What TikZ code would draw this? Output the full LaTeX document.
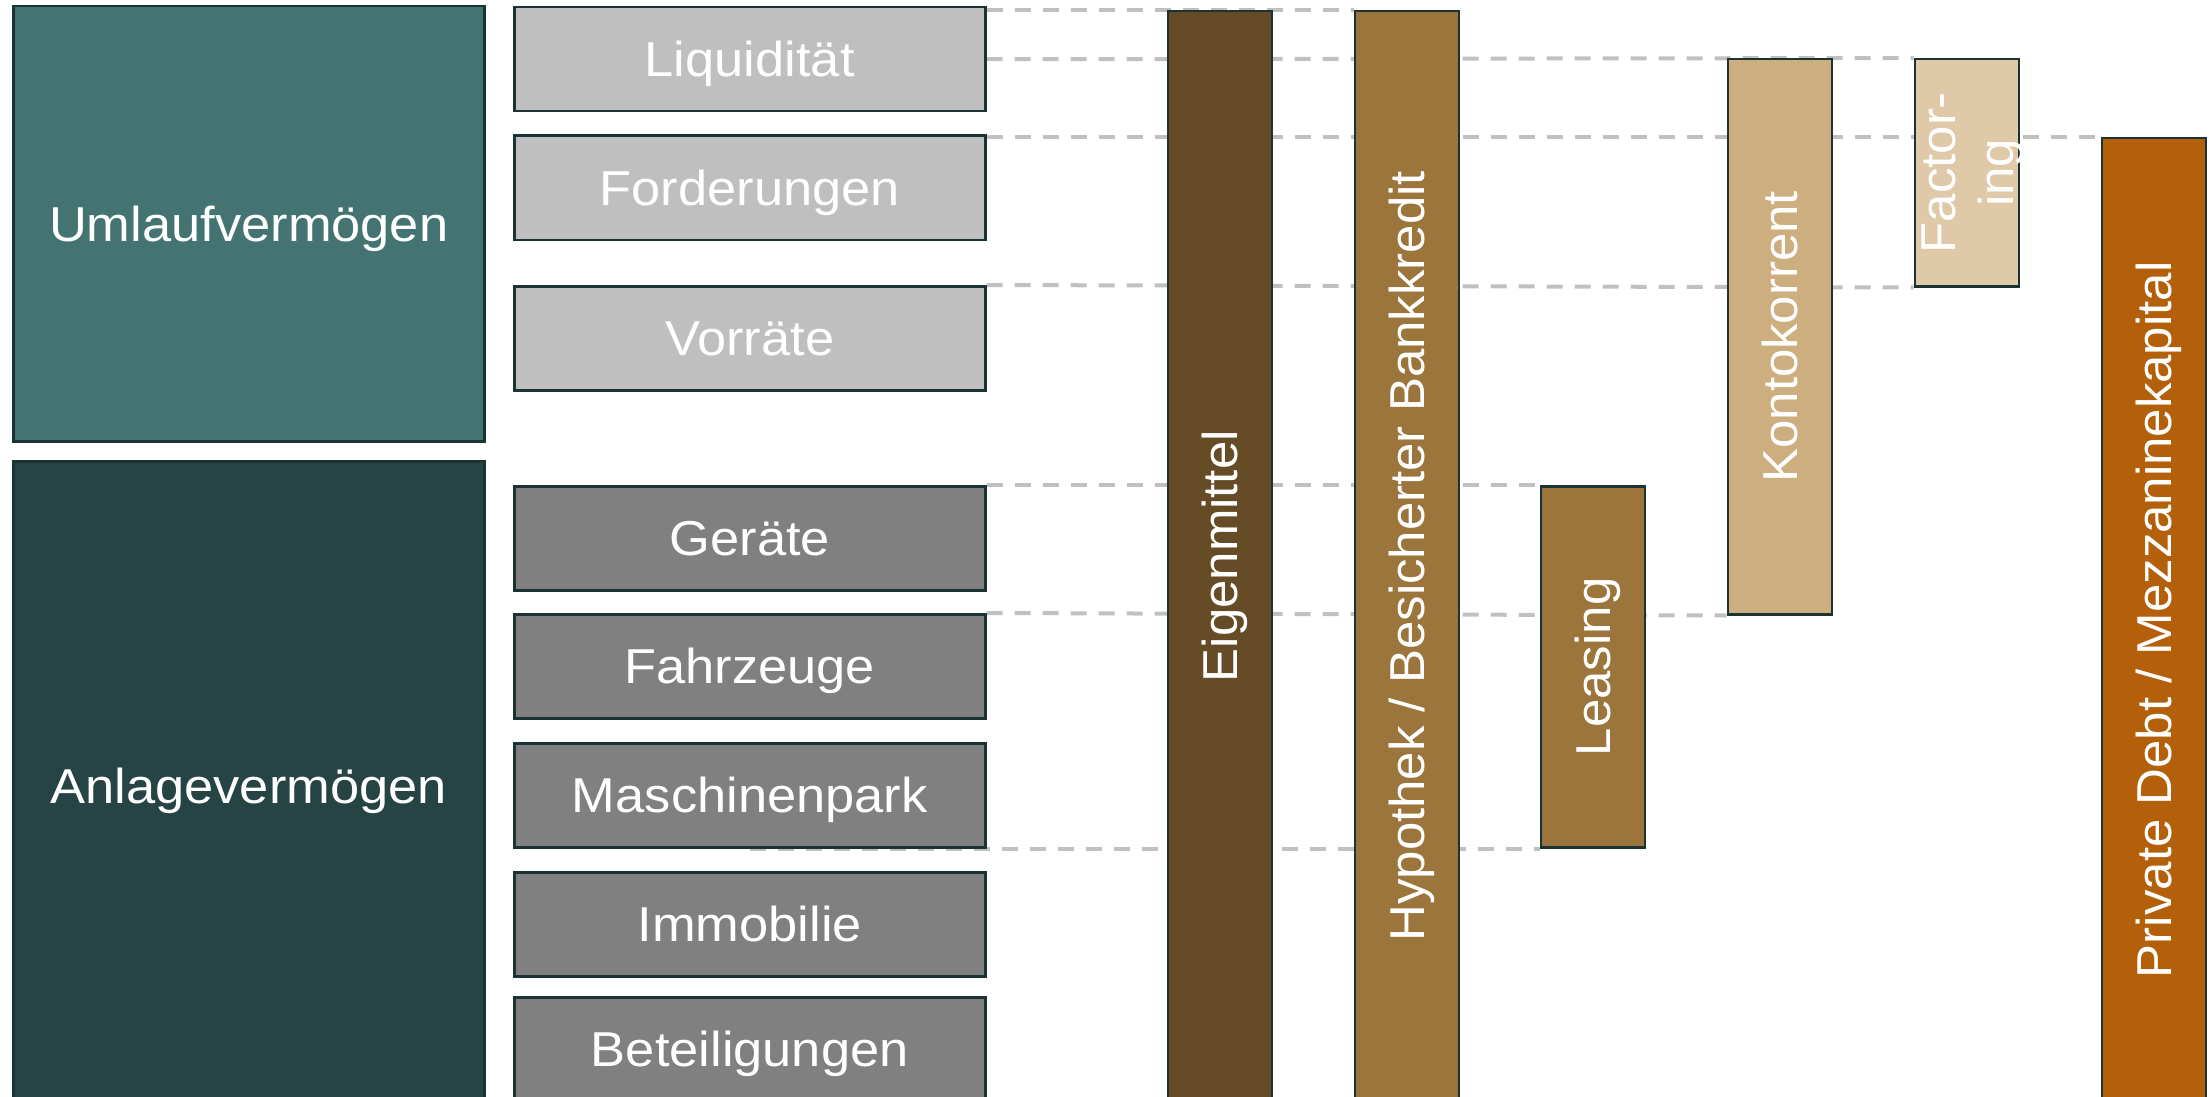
\documentclass[tikz,border=0pt]{standalone}
\usepackage{fontspec}
\setmainfont{Liberation Sans}[FakeStretch=1.04]
\newfontfamily\leftfont{Liberation Sans}[FakeStretch=1.07]
\definecolor{umC}{HTML}{447472}
\definecolor{anC}{HTML}{274445}
\definecolor{lgC}{HTML}{BFBFBF}
\definecolor{dgC}{HTML}{808080}
\definecolor{eigC}{HTML}{664C26}
\definecolor{hypC}{HTML}{9B753C}
\definecolor{konC}{HTML}{CDAE7E}
\definecolor{facC}{HTML}{DFC9A8}
\definecolor{pdC}{HTML}{B45F0A}
\definecolor{bord}{HTML}{1C3333}
\definecolor{dashC}{HTML}{C0C0C0}
\pgfdeclarelayer{bg}
\pgfsetlayers{bg,main}
\begin{document}
\begin{tikzpicture}[x=1pt,y=-1pt,
  lbox/.style={draw=bord,line width=2.5pt,inner sep=0pt,anchor=north west,text=white,
    font=\leftfont\fontsize{49}{58}\selectfont,text height=35pt,text depth=0pt,minimum width=471pt},
  bar/.style={draw=bord,line width=2.5pt,inner sep=0pt,anchor=north west,minimum width=104pt},
  vlbl/.style={rotate=90,inner sep=0pt,text=white,font=\fontsize{49}{58}\selectfont,
    text height=35pt,text depth=0pt},
  gline/.style={draw=dashC,line width=4pt,dash pattern=on 16pt off 12pt}]
\useasboundingbox (0,0) rectangle (2209,1097);
\clip (0,0) rectangle (2209,1097);
% left blocks
\node[lbox,fill=umC,minimum height=435pt] (uv) at (12,5) {Umlaufvermögen};
\node[lbox,fill=anC,minimum height=650pt] (av) at (12,460) {Anlagevermögen};
% asset items
\node[lbox,fill=lgC,minimum height=104pt] (liq) at (513,6) {Liquidität};
\node[lbox,fill=lgC,minimum height=104pt] (ford) at (513,134.5) {Forderungen};
\node[lbox,fill=lgC,minimum height=104pt] (vor) at (513,285) {Vorräte};
\node[lbox,fill=dgC,minimum height=104pt] (ger) at (513,485) {Geräte};
\node[lbox,fill=dgC,minimum height=104pt] (fahr) at (513,613) {Fahrzeuge};
\node[lbox,fill=dgC,minimum height=104pt] (masch) at (513,742) {Maschinenpark};
\node[lbox,fill=dgC,minimum height=104pt] (immo) at (513,871) {Immobilie};
\node[lbox,fill=dgC,minimum height=104pt] (bet) at (513,996) {Beteiligungen};
% financing bars
\node[bar,fill=eigC,minimum height=1090pt] (eig) at (1166.5,10) {};
\node[bar,fill=hypC,minimum height=1090pt] (hyp) at (1353.5,10) {};
\node[bar,fill=hypC,minimum height=361pt] (lea) at (1539.5,485) {};
\node[bar,fill=konC,minimum height=555pt] (kon) at (1726.5,58) {};
\node[bar,fill=facC,minimum height=227pt] (fac) at (1913.5,58) {};
\node[bar,fill=pdC,minimum height=963pt] (pd) at (2100.5,137) {};
% bar labels
\node[vlbl] (eigT) at (eig.center) {Eigenmittel};
\node[vlbl] (hypT) at (hyp.center) {Hypothek / Besicherter Bankkredit};
\node[vlbl] (leaT) at (lea.center) {Leasing};
\node[vlbl] (konT) at (kon.center) {Kontokorrent};
\node[vlbl] (facT1) at ([xshift=-28.5pt]fac.center) {Factor-};
\node[vlbl] (facT2) at ([xshift=29.5pt]fac.center) {ing};
\node[vlbl] (pdT) at (pd.center) {Private Debt / Mezzaninekapital};
% guide lines
\begin{pgfonlayer}{bg}
\draw[gline] (liq.east |- hyp.north) -- (hyp.north west);
\draw[gline] (liq.east) -- (fac.north west);
\draw[gline] (ford.east |- pd.north) -- (pd.north west);
\draw[gline] (vor.north east) -- (fac.south west);
\draw[gline] (ger.north east) -- (lea.north west);
\draw[gline] (fahr.north east) -- (kon.south west);
\draw[gline] (masch.south) -- (lea.south west);
\end{pgfonlayer}
\end{tikzpicture}
\end{document}
